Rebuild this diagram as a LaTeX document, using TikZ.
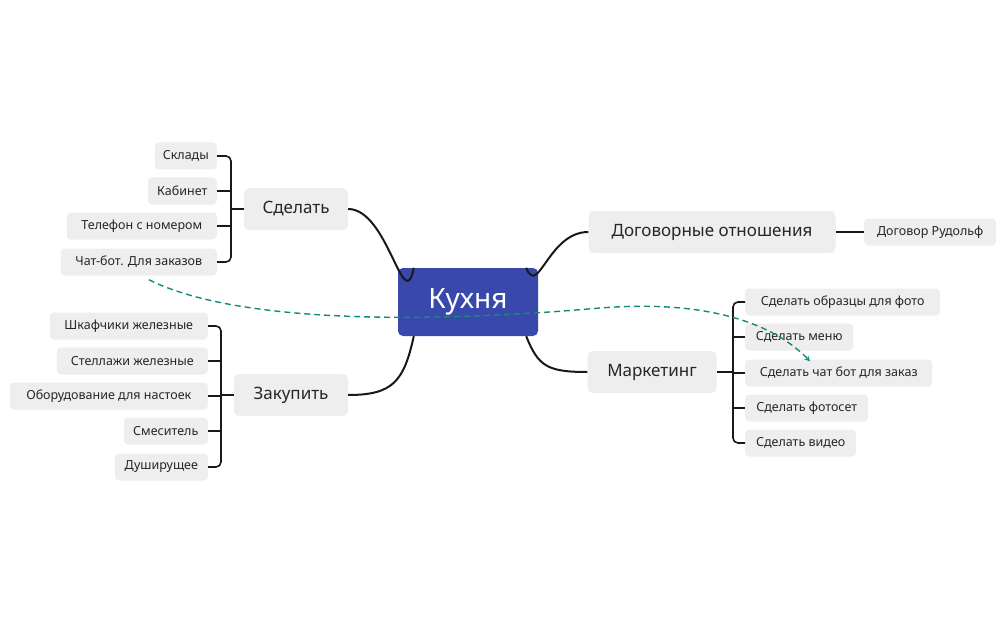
\documentclass[tikz,border=0pt]{standalone}
\usepackage{fontspec}
\setmainfont{Noto Sans}
\usetikzlibrary{calc}
\definecolor{boxgray}{HTML}{EEEEEE}
\definecolor{kitblue}{HTML}{3949AB}
\definecolor{dashteal}{HTML}{138A7A}
\tikzset{
	leaf/.style={fill=boxgray, rounded corners=4pt, inner sep=0pt, minimum height=27pt, font=\fontsize{12.5}{14}\selectfont, text=black!85},
	branch/.style={fill=boxgray, rounded corners=5pt, inner sep=0pt, minimum height=42pt, font=\fontsize{17}{20}\selectfont, text=black!85},
	link/.style={line width=2pt, black!90},
	brace/.style={line width=1.6pt, black!90, rounded corners=5pt}
}
\begin{document}
\begin{tikzpicture}[x=1pt, y=1pt]
	\useasboundingbox (0,0) rectangle (1007,-623);

	\node[fill=kitblue, rounded corners=5pt, minimum width=140pt, minimum height=68pt, text=white, font=\fontsize{28}{32}\selectfont] (kitchen) at (468,-302) {Кухня};

	\node[branch, minimum width=104pt] (make) at (296,-209) {Сделать};
	\node[branch, minimum width=114pt] (buy) at (291,-395) {Закупить};
	\node[branch, minimum width=247pt] (deals) at (712,-232) {Договорные отношения};
	\node[branch, minimum width=129pt] (market) at (652,-372) {Маркетинг};

	% Сделать
	\node[leaf, minimum width=62pt, anchor=east] (m1) at (217,-156) {Склады};
	\node[leaf, minimum width=69pt, anchor=east] (m2) at (217,-191) {Кабинет};
	\node[leaf, minimum width=150pt, anchor=east] (m3) at (217,-226) {Телефон с номером};
	\node[leaf, minimum width=156pt, anchor=east] (m4) at (217,-262) {Чат-бот. Для заказов};

	% Закупить
	\node[leaf, minimum width=158pt, anchor=east] (b1) at (208,-326) {Шкафчики железные};
	\node[leaf, minimum width=151pt, anchor=east] (b2) at (208,-361) {Стеллажи железные};
	\node[leaf, minimum width=198pt, anchor=east] (b3) at (208,-396) {Оборудование для настоек};
	\node[leaf, minimum width=84pt, anchor=east] (b4) at (208,-431) {Смеситель};
	\node[leaf, minimum width=93pt, anchor=east] (b5) at (208,-467) {Душирущее};

	% Договорные отношения
	\node[leaf, minimum width=132pt, anchor=west] (d1) at (864,-232) {Договор Рудольф};

	% Маркетинг
	\node[leaf, minimum width=195pt, anchor=west] (k1) at (745,-302) {Сделать образцы для фото};
	\node[leaf, minimum width=108pt, anchor=west] (k2) at (745,-337) {Сделать меню};
	\node[leaf, minimum width=187pt, anchor=west] (k3) at (745,-373) {Сделать чат бот для заказ};
	\node[leaf, minimum width=123pt, anchor=west] (k4) at (745,-408) {Сделать фотосет};
	\node[leaf, minimum width=111pt, anchor=west] (k5) at (745,-443) {Сделать видео};

	% main links
	\draw[link] ($(kitchen.north west)+(16,0)$) .. controls ($(kitchen.north west)+(6,-50)$) and ($(make.east)+(40,0)$) .. (make.east);
	\draw[link] ($(kitchen.south west)+(16,0)$) .. controls ($(kitchen.south west)+(6,-45)$) and ($(buy.east)+(45,0)$) .. (buy.east);
	\draw[link] ($(kitchen.north east)+(-12,0)$) .. controls ($(kitchen.north east)+(0,-30)$) and ($(deals.west)+(-40,0)$) .. (deals.west);
	\draw[link] ($(kitchen.south east)+(-12,0)$) .. controls ($(kitchen.south east)+(0,-30)$) and ($(market.west)+(-40,0)$) .. (market.west);
	\draw[link] (deals.east) -- (d1.west);

	% brackets
	\coordinate (mb) at (231,-209);
	\draw[brace] (m1.east) -| (mb) |- (m4.east);
	\draw[brace] (m2.east) -- (m2.east -| mb);
	\draw[brace] (m3.east) -- (m3.east -| mb);
	\draw[brace] (mb) -- (make.west);

	\coordinate (bb) at (221,-395);
	\draw[brace] (b1.east) -| (bb) |- (b5.east);
	\draw[brace] (b2.east) -- (b2.east -| bb);
	\draw[brace] (b3.east) -- (b3.east -| bb);
	\draw[brace] (b4.east) -- (b4.east -| bb);
	\draw[brace] (bb) -- (buy.west);

	\coordinate (kb) at (733,-372);
	\draw[brace] (k1.west) -| (kb) |- (k5.west);
	\draw[brace] (k2.west) -- (k2.west -| kb);
	\draw[brace] (k3.west) -- (k3.west -| kb);
	\draw[brace] (k4.west) -- (k4.west -| kb);
	\draw[brace] (kb) -- (market.east);

	% relation
	\draw[dashteal, line width=1.4pt, dash pattern=on 6pt off 4pt, -stealth] ($(m4.south)+(10,-4)$) .. controls (260,-335) and (520,-315) .. (600,-308) .. controls (700,-300) and (770,-320) .. ($(k3.north west)+(65,-2)$);
\end{tikzpicture}
\end{document}
